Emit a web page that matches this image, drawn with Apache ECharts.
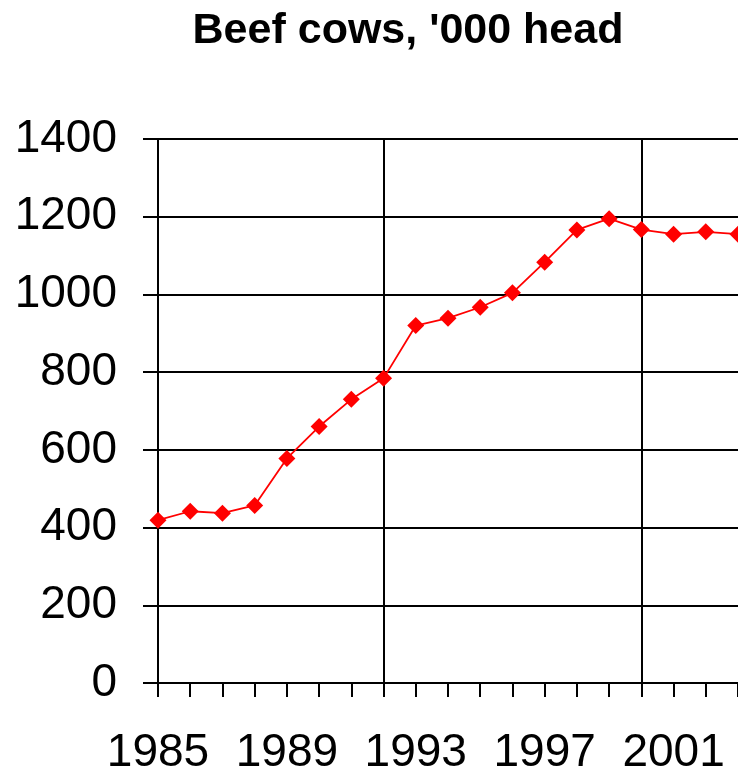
<!DOCTYPE html>
<html>
<head>
<meta charset="utf-8">
<script src="https://cdn.jsdelivr.net/npm/echarts@6/dist/echarts.min.js"></script>
<style>
  html, body { margin: 0; padding: 0; background: #fff; }
  #chart { width: 738px; height: 771px; }
</style>
</head>
<body>
<div id="chart"></div>
<script>
// years on the x axis
var years = ['1985','1986','1987','1988','1989','1990','1991','1992','1993','1994',
             '1995','1996','1997','1998','1999','2000','2001','2002','2003'];
// beef cows, thousand head
var beefCows = [419, 442, 437, 457, 578, 660, 730, 784, 920, 939,
                967, 1004, 1083, 1166, 1195, 1167, 1155, 1161, 1155];
// vertical grid lines at these category indexes
var vGridAt = [7, 15];

var myChart = echarts.init(document.getElementById('chart'));
var option = {
    animation: false,
    backgroundColor: '#fff',
    title: {
        text: "Beef cows, '000 head",
        left: 403,
        top: 5,
        textAlign: 'center',
        textStyle: {
            fontFamily: 'Liberation Sans, Arial',
            fontWeight: 'bold',
            fontSize: 43,
            color: '#000'
        }
    },
    grid: { left: 158, right: 0, top: 139, bottom: 88, containLabel: false, outerBoundsMode: 'none' },
    xAxis: {
        type: 'category',
        data: years,
        boundaryGap: false,
        axisLine: { lineStyle: { color: '#000', width: 2 } },
        axisTick: { interval: 0, length: 14, lineStyle: { color: '#000', width: 2 } },
        axisLabel: {
            interval: 3,
            margin: 47,
            fontFamily: 'Liberation Sans, Arial',
            fontSize: 46,
            color: '#000'
        },
        splitLine: {
            show: true,
            interval: function (i) { return vGridAt.indexOf(i) >= 0; },
            lineStyle: { color: '#000', width: 2 }
        }
    },
    yAxis: {
        type: 'value',
        min: 0,
        max: 1400,
        interval: 200,
        axisLine: { show: true, lineStyle: { color: '#000', width: 2 } },
        axisTick: { show: true, length: 15, lineStyle: { color: '#000', width: 2 } },
        axisLabel: {
            margin: 41,
            fontFamily: 'Liberation Sans, Arial',
            fontSize: 46,
            color: '#000',
            formatter: function (v) { return String(v); }
        },
        splitLine: { lineStyle: { color: '#000', width: 2 } }
    },
    series: [{
        type: 'line',
        data: beefCows,
        symbol: 'diamond',
        symbolSize: 17,
        clip: false,
        itemStyle: { color: '#ff0000' },
        lineStyle: { color: '#ff0000', width: 1.8 }
    }]
};
myChart.setOption(option);
window.onresize = myChart.resize;
</script>
</body>
</html>
